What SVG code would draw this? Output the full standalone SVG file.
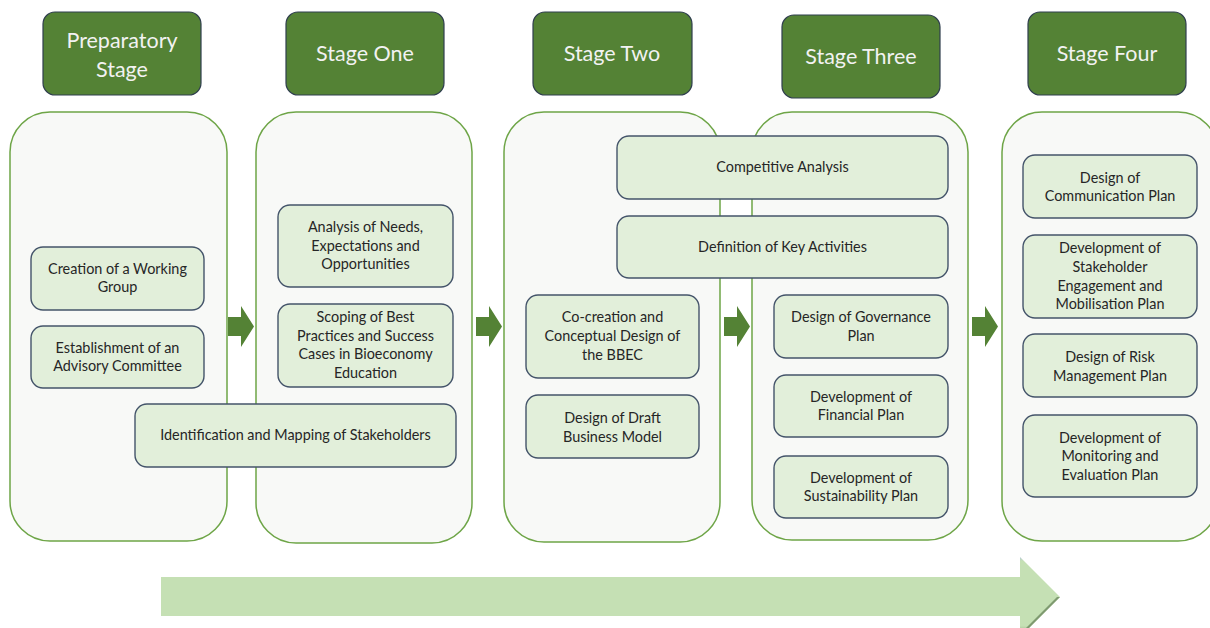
<svg xmlns="http://www.w3.org/2000/svg" width="1210" height="628" viewBox="0 0 1210 628">
  <style>
    .hdr rect { fill: #548235; stroke: #2f3e4e; stroke-width: 1.2; }
    .hdr text { fill: #f2f2f2; font-family: Lato, "Open Sans", sans-serif; font-size: 21.5px; text-anchor: middle; }
    .panel { fill: #f8f9f7; stroke: #6ea547; stroke-width: 1.5; }
    .box rect { fill: #e2efda; stroke: #44546a; stroke-width: 1.4; }
    .box text { fill: #262626; font-family: Lato, "Open Sans", sans-serif; font-size: 14.4px; text-anchor: middle; }
    .step { fill: #548235; }
  </style>
  <defs>
    <linearGradient id="bigBody" x1="0" y1="0" x2="0" y2="1">
      <stop offset="0" stop-color="#b4c7d6"/>
      <stop offset="0.05" stop-color="#c5e0b4"/>
      <stop offset="0.86" stop-color="#c5e0b4"/>
      <stop offset="0.95" stop-color="#93ad83"/>
      <stop offset="1" stop-color="#cfd8ca"/>
    </linearGradient>
  </defs>

  <rect width="1210" height="628" fill="#ffffff"/>

  <!-- stage columns -->
  <g id="columns">
    <rect class="panel" x="10" y="112" width="217" height="429" rx="40"/>
    <rect class="panel" x="256" y="112" width="216" height="431" rx="40"/>
    <rect class="panel" x="504" y="112" width="216" height="430" rx="40"/>
    <rect class="panel" x="752" y="112" width="216" height="428" rx="40"/>
    <rect class="panel" x="1002" y="112" width="216" height="429" rx="40"/>
  </g>

  <!-- stage headers -->
  <g id="hdr-prep" class="hdr">
    <rect x="43" y="12" width="158" height="83" rx="12"/>
    <text x="122" y="48">Preparatory</text>
    <text x="122" y="77">Stage</text>
  </g>
  <g id="hdr-one" class="hdr">
    <rect x="286" y="12" width="158" height="83" rx="12"/>
    <text x="365" y="61">Stage One</text>
  </g>
  <g id="hdr-two" class="hdr">
    <rect x="533" y="12" width="159" height="83" rx="12"/>
    <text x="612" y="61">Stage Two</text>
  </g>
  <g id="hdr-three" class="hdr">
    <rect x="782" y="15" width="158" height="83" rx="12"/>
    <text x="861" y="64">Stage Three</text>
  </g>
  <g id="hdr-four" class="hdr">
    <rect x="1028" y="12" width="158" height="83" rx="12"/>
    <text x="1107" y="61">Stage Four</text>
  </g>

  <!-- connectors between stages -->
  <g id="connectors">
    <path class="step" d="M228,317 H241 V306 L254,326.5 L241,347 V336 H228 Z"/>
    <path class="step" d="M476,317 H489 V306 L502,326.5 L489,347 V336 H476 Z"/>
    <path class="step" d="M724,317 H737 V306 L750,326.5 L737,347 V336 H724 Z"/>
    <path class="step" d="M972,317 H985 V306 L998,326.5 L985,347 V336 H972 Z"/>
    <!-- overall progression arrow -->
    <path d="M161,577 H1020 V557 L1060,597 L1020,637 V616 H161 Z" fill="url(#bigBody)"/>
    <path d="M1060,597 L1020,637 V634 L1057,597 Z" fill="#7f9a70"/>
  </g>

  <!-- preparatory stage activities -->
  <g id="n-working-group" class="box">
    <rect x="31" y="247" width="173" height="63" rx="12"/>
    <text x="117.5" y="274">Creation of a Working</text>
    <text x="117.5" y="292">Group</text>
  </g>
  <g id="n-advisory" class="box">
    <rect x="31" y="326" width="173" height="62" rx="12"/>
    <text x="117.5" y="353">Establishment of an</text>
    <text x="117.5" y="371">Advisory Committee</text>
  </g>
  <g id="n-stakeholders" class="box">
    <rect x="135" y="404" width="321" height="63" rx="12"/>
    <text x="295.5" y="440">Identification and Mapping of Stakeholders</text>
  </g>

  <!-- stage one activities -->
  <g id="n-needs" class="box">
    <rect x="278" y="205" width="175" height="82" rx="12"/>
    <text x="365.5" y="232">Analysis of Needs,</text>
    <text x="365.5" y="251">Expectations and</text>
    <text x="365.5" y="269">Opportunities</text>
  </g>
  <g id="n-best-practices" class="box">
    <rect x="278" y="304" width="175" height="83" rx="12"/>
    <text x="365.5" y="322">Scoping of Best</text>
    <text x="365.5" y="341">Practices and Success</text>
    <text x="365.5" y="359">Cases in Bioeconomy</text>
    <text x="365.5" y="378">Education</text>
  </g>

  <!-- stage two / three activities -->
  <g id="n-competitive" class="box">
    <rect x="617" y="136" width="331" height="63" rx="12"/>
    <text x="782.5" y="172">Competitive Analysis</text>
  </g>
  <g id="n-key-activities" class="box">
    <rect x="617" y="216" width="331" height="62" rx="12"/>
    <text x="782.5" y="252">Definition of Key Activities</text>
  </g>
  <g id="n-cocreation" class="box">
    <rect x="526" y="295" width="173" height="83" rx="12"/>
    <text x="612.5" y="322">Co-creation and</text>
    <text x="612.5" y="341">Conceptual Design of</text>
    <text x="612.5" y="360">the BBEC</text>
  </g>
  <g id="n-business-model" class="box">
    <rect x="526" y="395" width="173" height="63" rx="12"/>
    <text x="612.5" y="423">Design of Draft</text>
    <text x="612.5" y="442">Business Model</text>
  </g>
  <g id="n-governance" class="box">
    <rect x="774" y="295" width="174" height="63" rx="12"/>
    <text x="861" y="322">Design of Governance</text>
    <text x="861" y="341">Plan</text>
  </g>
  <g id="n-financial" class="box">
    <rect x="774" y="375" width="174" height="62" rx="12"/>
    <text x="861" y="402">Development of</text>
    <text x="861" y="420">Financial Plan</text>
  </g>
  <g id="n-sustainability" class="box">
    <rect x="774" y="456" width="174" height="62" rx="12"/>
    <text x="861" y="483">Development of</text>
    <text x="861" y="501">Sustainability Plan</text>
  </g>

  <!-- stage four activities -->
  <g id="n-communication" class="box">
    <rect x="1023" y="155" width="174" height="63" rx="12"/>
    <text x="1110" y="183">Design of</text>
    <text x="1110" y="201">Communication Plan</text>
  </g>
  <g id="n-engagement" class="box">
    <rect x="1023" y="235" width="174" height="83" rx="12"/>
    <text x="1110" y="253">Development of</text>
    <text x="1110" y="272">Stakeholder</text>
    <text x="1110" y="291">Engagement and</text>
    <text x="1110" y="309">Mobilisation Plan</text>
  </g>
  <g id="n-risk" class="box">
    <rect x="1023" y="334" width="174" height="63" rx="12"/>
    <text x="1110" y="362">Design of Risk</text>
    <text x="1110" y="381">Management Plan</text>
  </g>
  <g id="n-monitoring" class="box">
    <rect x="1023" y="415" width="174" height="82" rx="12"/>
    <text x="1110" y="443">Development of</text>
    <text x="1110" y="461">Monitoring and</text>
    <text x="1110" y="480">Evaluation Plan</text>
  </g>
</svg>
